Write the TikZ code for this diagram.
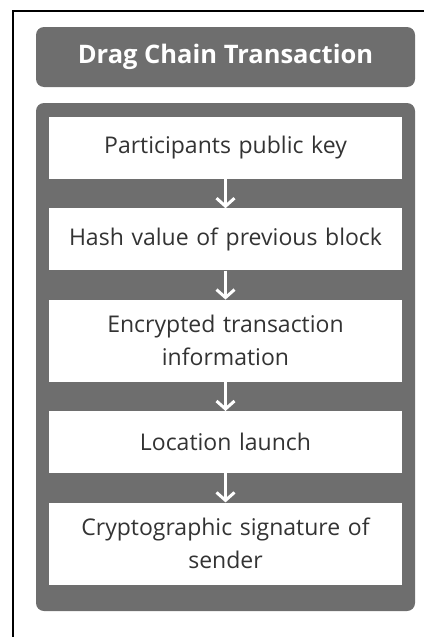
\documentclass[tikz,border=0pt]{standalone}
\usepackage{fontspec}
\setmainfont{Open Sans}
\usepackage{xcolor}
\usepackage{tikz}
\usetikzlibrary{arrows.meta,positioning}

\definecolor{panelgray}{HTML}{6E6E6E}
\definecolor{textgray}{HTML}{333333}

\begin{document}
\begin{tikzpicture}[
    x=1pt, y=-1pt,
    panel/.style={fill=panelgray, draw=none, rounded corners=8pt},
    title/.style={panel, minimum width=379pt, minimum height=60pt, text=white, font=\fontsize{25.5}{30}\selectfont\bfseries},
    field/.style={rectangle, fill=white, draw=none, minimum width=353pt, text width=340pt, align=center, text=textgray, font=\fontsize{23}{33}\selectfont, inner sep=0pt},
    one/.style={field, minimum height=62pt},
    two/.style={field, minimum height=82pt},
    arr/.style={-{Straight Barb[length=8pt,width=18pt]}, line width=3pt, white}
]
    \useasboundingbox (0,0) rectangle (424,637);
    \draw[line width=2pt] (12.5,637) -- (12.5,10.5) -- (424,10.5);
    \node[title] (T) at (225.5,57) {Drag Chain Transaction};
    \fill[panel] (36,103) rectangle (415,611);
    \node[one] (K) at (225.5,148) {Participants public key};
    \node[one, below=29pt of K] (H) {Hash value of previous block};
    \node[two, below=29pt of H] (E) {Encrypted transaction\\information};
    \node[one, below=29pt of E] (L) {Location launch};
    \node[two, below=29pt of L] (S) {Cryptographic signature of\\sender};
    \draw[arr] (K) -- (H);
    \draw[arr] (H) -- (E);
    \draw[arr] (E) -- (L);
    \draw[arr] (L) -- (S);
\end{tikzpicture}
\end{document}
